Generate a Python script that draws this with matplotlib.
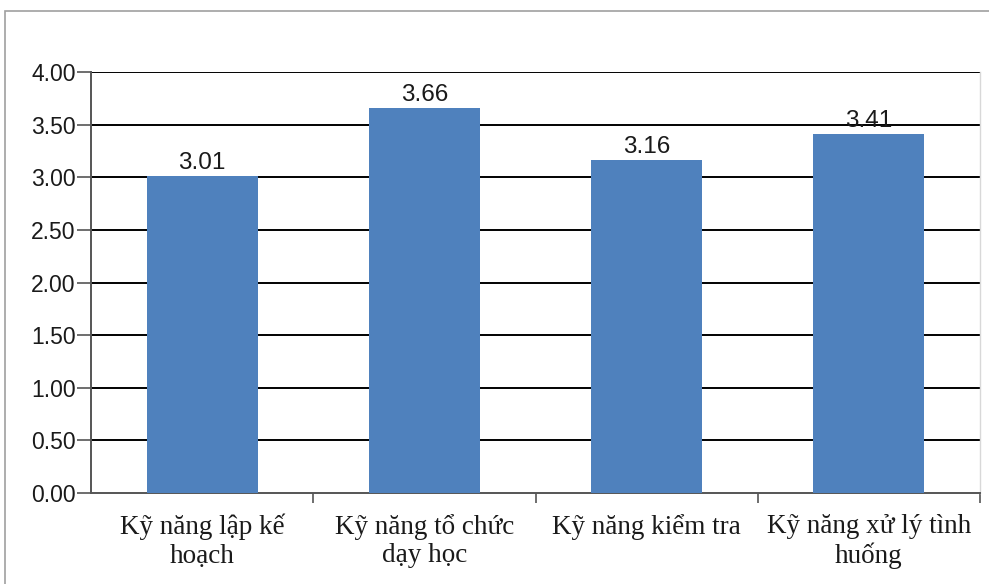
import matplotlib
matplotlib.use("Agg")
import matplotlib.pyplot as plt
from matplotlib.patches import Rectangle
from matplotlib.font_manager import FontProperties

categories = ["Kỹ năng lập kế\nhoạch", "Kỹ năng tổ chức\ndạy học",
              "Kỹ năng kiểm tra", "Kỹ năng xử lý tình\nhuống"]
values = [3.01, 3.66, 3.16, 3.41]
yticks = [0.0, 0.5, 1.0, 1.5, 2.0, 2.5, 3.0, 3.5, 4.0]

tick_font = FontProperties(family="Liberation Sans", size=16.5)
value_font = FontProperties(family="Liberation Sans", size=17.5)
cat_font = FontProperties(family="Liberation Serif", size=19.5)

fig = plt.figure(figsize=(9.89, 5.84), dpi=100)
# outer chart frame
fig.patches.append(Rectangle((5 / 989, -0.1), 1.1, 1 - 11 / 584 + 0.1,
                             transform=fig.transFigure, fill=False,
                             edgecolor="#a0a0a0", linewidth=1.2))

ax = fig.add_axes([91 / 989, 1 - 493 / 584, (980 - 91) / 989, (493 - 72) / 584])
x = range(len(categories))
ax.bar(x, values, width=0.5, color="#4F81BD", zorder=3)
for xi, v in zip(x, values):
    ax.text(xi, v + 0.02, f"{v:.2f}", ha="center", va="bottom",
            fontproperties=value_font, color="#1a1a1a", zorder=4)

ax.set_xlim(-0.5, len(categories) - 0.5)
ax.set_ylim(0, 4)
ax.set_yticks(yticks)
ax.set_yticklabels([f"{t:.2f}" for t in yticks], fontproperties=tick_font,
                   color="#1a1a1a")
for t in yticks[1:]:
    ax.axhline(t, color="black", linewidth=1.4, zorder=2)

ax.set_xticks([i + 0.5 for i in range(len(categories))])
ax.set_xticklabels([])
ax.set_xticks(list(x), minor=True)
ax.set_xticklabels(categories, minor=True, fontproperties=cat_font,
                   linespacing=1.17, color="#1a1a1a")
ax.tick_params(axis="x", which="minor", length=0, pad=15)
ax.tick_params(axis="x", which="major", length=7, width=1.2, color="#555555")
ax.tick_params(axis="y", length=10, width=1.2, color="#555555", pad=1)

for side in ["left", "bottom"]:
    ax.spines[side].set_color("#555555")
    ax.spines[side].set_linewidth(1.4)
ax.spines["top"].set_visible(False)
ax.spines["right"].set_color("#d8d8d8")
ax.spines["right"].set_linewidth(1.0)

fig.savefig("out.png", dpi=100)
